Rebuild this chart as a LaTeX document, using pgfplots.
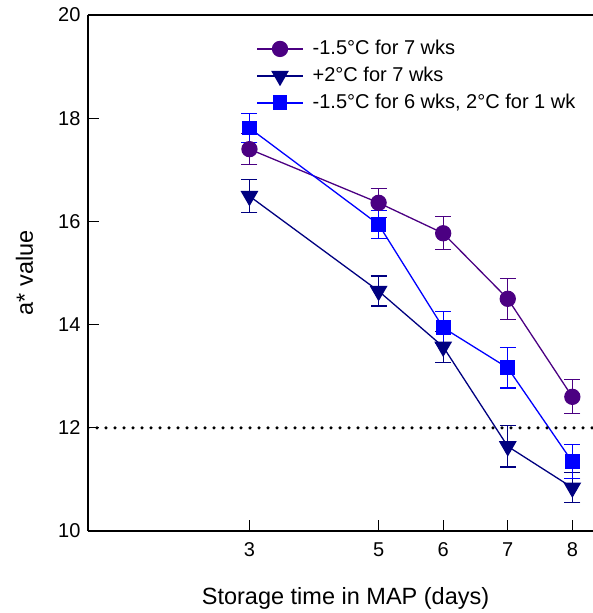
\documentclass[border=0pt]{standalone}
\usepackage{pgfplots}
\pgfplotsset{compat=1.18}
\usepackage{fontspec}
\setmainfont{Liberation Sans}
\definecolor{cpurple}{HTML}{4B0082}
\definecolor{cnavy}{HTML}{000080}
\definecolor{cblue}{HTML}{0000FF}
\begin{document}
\begin{tikzpicture}
\begin{axis}[
  name=ax,
  scale only axis, width=505pt, height=516pt,
  xmin=0.5, xmax=8.32, ymin=10, ymax=20,
  axis x line=box, axis y line=left,
  axis line style={-, line width=1.1pt, black},
  xtick={3,5,6,7,8}, ytick={10,12,...,20},
  xtick pos=left, ytick pos=left,
  tick align=inside, major tick length=11pt,
  tick style={black, line width=1pt},
  /pgf/number format/assume math mode=true,
  ticklabel style={font=\fontsize{20}{24}\selectfont},
  xticklabel shift=8pt, yticklabel shift=4pt,
  every axis x label/.style={at={(axis description cs:0.51,0)}, anchor=base, yshift=-73pt, font=\fontsize{23.5}{28}\selectfont},
  every axis y label/.style={at={(axis description cs:-0.109,0.5)}, rotate=90, anchor=base, font=\fontsize{23.5}{28}\selectfont},
  xlabel={Storage time in MAP (days)},
  ylabel={a* value},
  legend style={font=\fontsize{20}{24}\selectfont, draw=none, fill=none,
    at={(axis description cs:0.333,0.955)}, anchor=north west,
    inner sep=0pt, row sep=6pt, column sep=8pt,
    nodes={inner sep=1pt, text height=15pt, text depth=4pt}},
  legend cell align=left,
  legend image code/.code={\draw[mark repeat=2,mark phase=2] plot coordinates {(0pt,0pt)(23pt,0pt)(46pt,0pt)};},
  error bars/error bar style={line width=1.2pt},
  error bars/error mark options={rotate=90, mark size=8pt, line width=1.2pt},
]
\addplot[cpurple, line width=1.3pt, mark=*, mark size=7.5pt,
  error bars/.cd, y dir=both, y explicit]
  coordinates {(3,17.40) +- (0,0.30) (5,16.36) +- (0,0.28) (6,15.77) +- (0,0.32) (7,14.50) +- (0,0.40) (8,12.60) +- (0,0.33)};
\addlegendentry{-1.5°C for 7 wks}
\addplot[cnavy, line width=1.3pt, mark=triangle*, mark size=9pt, mark options={rotate=180},
  error bars/.cd, y dir=both, y explicit]
  coordinates {(3,16.49) +- (0,0.32) (5,14.65) +- (0,0.29) (6,13.57) +- (0,0.30) (7,11.64) +- (0,0.40) (8,10.84) +- (0,0.29)};
\addlegendentry{+2°C for 7 wks}
\addplot[cblue, line width=1.3pt, mark=square*, mark size=6.8pt,
  error bars/.cd, y dir=both, y explicit]
  coordinates {(3,17.81) +- (0,0.28) (5,15.94) +- (0,0.27) (6,13.94) +- (0,0.31) (7,13.16) +- (0,0.39) (8,11.34) +- (0,0.33)};
\addlegendentry{-1.5°C for 6 wks, 2°C for 1 wk}
\addplot[black, line width=3.5pt, line cap=round, dash pattern=on 0pt off 9pt, forget plot]
  coordinates {(0.5,12) (8.32,12)};
\end{axis}
\pgfresetboundingbox
\path[use as bounding box] (ax.south west) ++(-88pt,-82pt) rectangle ++(593pt,613pt);
\end{tikzpicture}
\end{document}
